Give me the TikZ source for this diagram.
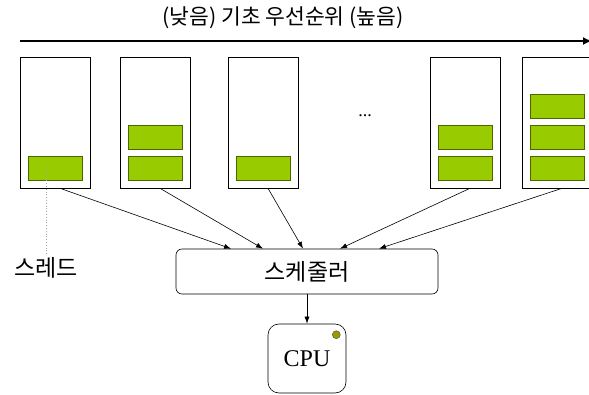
\documentclass[tikz,border=0pt]{standalone}
\usepackage{fontspec}
\setmainfont{Liberation Serif}
\newfontfamily\kr{Noto Sans CJK KR}
\usetikzlibrary{arrows.meta,calc}
\definecolor{threadgreen}{HTML}{99CC00}
\definecolor{threadedge}{HTML}{4D6600}
\definecolor{leddot}{HTML}{999900}
\tikzset{
  queue/.style={draw, fill=white, line width=0.6pt, minimum width=70pt, minimum height=131pt, inner sep=0pt},
  thread/.style={draw=threadedge, fill=threadgreen, line width=0.9pt, minimum width=54pt, minimum height=24pt, inner sep=0pt},
  feed/.style={-{Latex[length=7pt,width=5pt]}, line width=0.6pt}
}

\begin{document}
\begin{tikzpicture}[x=1pt, y=-1pt]
\useasboundingbox (0,0) rectangle (589,395);
\node[font=\kr\fontsize{21.5}{24}\selectfont] (title) at (283,18) {(낮음) 기초 우선순위 (높음)};
\coordinate (low) at (20,41); \coordinate (high) at (592,41);
\draw[line width=2.4pt, -{Latex[length=9pt,width=8pt]}] (low)--(high);
% priority queues
\node[queue] (q1) at (55,122.5) {}; \node[queue] (q2) at (155,122.5) {}; \node[queue] (q3) at (263,122.5) {};
\node[queue] (q4) at (465,122.5) {}; \node[queue] (q5) at (557,122.5) {};
\node[font=\fontsize{18}{20}\selectfont] (dots) at (365,116) {...};
% threads
\node[thread] (t1) at (55,168) {};
\node[thread] (t2a) at (155,168) {}; \node[thread] (t2b) at (155,137) {};
\node[thread] (t3) at (263,168) {};
\node[thread] (t4a) at (465,168) {}; \node[thread] (t4b) at (465,137) {};
\node[thread] (t5a) at (557,168) {}; \node[thread] (t5b) at (557,137) {}; \node[thread] (t5c) at (557,106) {};
% scheduler and cpu
\node[draw, rounded corners=6pt, line width=0.6pt, minimum width=262pt, minimum height=45pt, font=\kr\fontsize{23}{26}\selectfont] (sched) at (307,271.5) {스케줄러};
\node[draw, rounded corners=11pt, line width=0.6pt, minimum width=78pt, minimum height=69pt, font=\fontsize{24}{26}\selectfont] (cpu) at (307,358.5) {CPU};
\fill[leddot, draw=black!70, line width=0.4pt] ($(cpu.north east)+(-10,11)$) circle (4);
\draw[feed] ($(q1.south)+(5,0)$)--($(sched.north)+(-76,0)$);
\draw[feed] ($(q2.south)+(5,0)$)--($(sched.north)+(-44,0)$);
\draw[feed] ($(q3.south)+(5,0)$)--($(sched.north)+(-4,0)$);
\draw[feed] ($(q4.south)+(5,0)$)--($(sched.north)+(33,0)$);
\draw[feed] ($(q5.south)+(5,0)$)--($(sched.north)+(72,0)$);
\draw[feed] (sched)--(cpu);
% thread label
\node[font=\kr\fontsize{23}{26}\selectfont] (threadlbl) at (46,268) {스레드};
\draw[gray!70, dotted, line width=0.8pt] (threadlbl.north)--(threadlbl.north |- t1.center);
\end{tikzpicture}
\end{document}
